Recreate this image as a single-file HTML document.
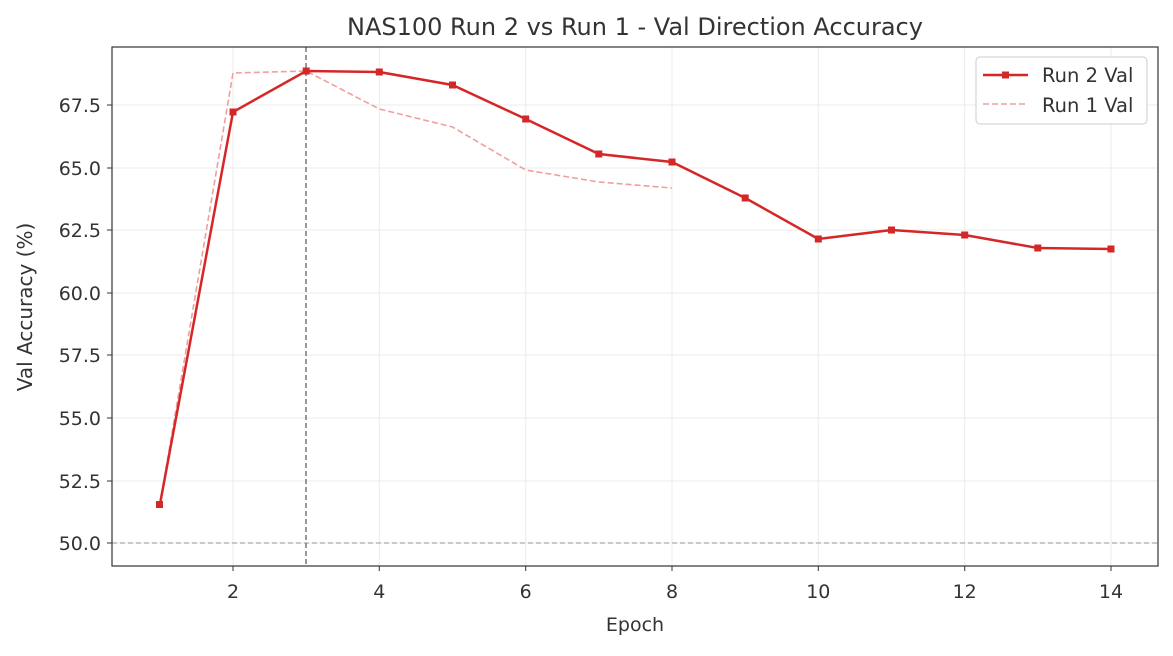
<!DOCTYPE html>
<html><head><meta charset="utf-8"><style>body{margin:0;background:#fff}</style></head><body>
<svg width="1173" height="651" xmlns="http://www.w3.org/2000/svg" font-family="DejaVu Sans, Liberation Sans, sans-serif" fill="#333">
<rect width="1173" height="651" fill="#fff"/>
<g stroke="#ebebeb" stroke-width="1">
<line x1="233" y1="47" x2="233" y2="566"/><line x1="379.3" y1="47" x2="379.3" y2="566"/><line x1="525.7" y1="47" x2="525.7" y2="566"/><line x1="672" y1="47" x2="672" y2="566"/><line x1="818.3" y1="47" x2="818.3" y2="566"/><line x1="964.7" y1="47" x2="964.7" y2="566"/><line x1="1111" y1="47" x2="1111" y2="566"/>
<line x1="112" y1="105" x2="1158" y2="105"/><line x1="112" y1="168" x2="1158" y2="168"/><line x1="112" y1="230" x2="1158" y2="230"/><line x1="112" y1="293" x2="1158" y2="293"/><line x1="112" y1="355" x2="1158" y2="355"/><line x1="112" y1="418" x2="1158" y2="418"/><line x1="112" y1="481" x2="1158" y2="481"/><line x1="112" y1="543" x2="1158" y2="543"/>
</g>
<line x1="112" y1="543" x2="1158" y2="543" stroke="#aaa" stroke-width="1.3" stroke-dasharray="5,3"/>
<line x1="306" y1="47" x2="306" y2="566" stroke="#777" stroke-width="1.5" stroke-dasharray="5,3"/>
<polyline fill="none" stroke="#eea0a0" stroke-width="1.6" stroke-dasharray="6,3" points="159.8,505 233,73 306.2,71 379.3,109 452.5,127 525.7,170 598.8,182 672,188"/>
<polyline fill="none" stroke="#d62728" stroke-width="2.5" points="159.8,505 233,112 306.2,71 379.3,72 452.5,85 525.7,119 598.8,154 672,162 745.2,198 818.3,239 891.5,230 964.7,235 1037.8,248 1111,249"/>
<g fill="#d62728">
<rect x="156" y="501" width="7" height="7"/><rect x="229.5" y="108.5" width="7" height="7"/><rect x="302.7" y="67.5" width="7" height="7"/><rect x="375.8" y="68.5" width="7" height="7"/><rect x="449" y="81.5" width="7" height="7"/><rect x="522.2" y="115.5" width="7" height="7"/><rect x="595.3" y="150.5" width="7" height="7"/><rect x="668.5" y="158.5" width="7" height="7"/><rect x="741.7" y="194.5" width="7" height="7"/><rect x="814.8" y="235.5" width="7" height="7"/><rect x="888" y="226.5" width="7" height="7"/><rect x="961.2" y="231.5" width="7" height="7"/><rect x="1034.3" y="244.5" width="7" height="7"/><rect x="1107.5" y="245.5" width="7" height="7"/>
</g>
<rect x="112" y="47" width="1046" height="519" fill="none" stroke="#333" stroke-width="1.2"/>
<g stroke="#333"><line x1="233" y1="566" x2="233" y2="571"/><line x1="379.3" y1="566" x2="379.3" y2="571"/><line x1="525.7" y1="566" x2="525.7" y2="571"/><line x1="672" y1="566" x2="672" y2="571"/><line x1="818.3" y1="566" x2="818.3" y2="571"/><line x1="964.7" y1="566" x2="964.7" y2="571"/><line x1="1111" y1="566" x2="1111" y2="571"/>
<line x1="107" y1="105" x2="112" y2="105"/><line x1="107" y1="168" x2="112" y2="168"/><line x1="107" y1="230" x2="112" y2="230"/><line x1="107" y1="293" x2="112" y2="293"/><line x1="107" y1="355" x2="112" y2="355"/><line x1="107" y1="418" x2="112" y2="418"/><line x1="107" y1="481" x2="112" y2="481"/><line x1="107" y1="543" x2="112" y2="543"/></g>
<g font-size="19" text-anchor="middle"><text x="233" y="598">2</text><text x="379.3" y="598">4</text><text x="525.7" y="598">6</text><text x="672" y="598">8</text><text x="818.3" y="598">10</text><text x="964.7" y="598">12</text><text x="1111" y="598">14</text></g>
<g font-size="19" text-anchor="end"><text x="101" y="112">67.5</text><text x="101" y="175">65.0</text><text x="101" y="237">62.5</text><text x="101" y="300">60.0</text><text x="101" y="362">57.5</text><text x="101" y="425">55.0</text><text x="101" y="488">52.5</text><text x="101" y="550">50.0</text></g>
<text x="635" y="631" font-size="19" text-anchor="middle">Epoch</text>
<text transform="translate(32,307) rotate(-90)" font-size="20" text-anchor="middle">Val Accuracy (%)</text>
<text x="635" y="35" font-size="24" text-anchor="middle">NAS100 Run 2 vs Run 1 - Val Direction Accuracy</text>
<rect x="976" y="57" width="171" height="67" rx="4" fill="#fff" stroke="#ccc" stroke-width="1"/>
<line x1="983" y1="75" x2="1028" y2="75" stroke="#d62728" stroke-width="2.5"/><rect x="1002" y="71.5" width="7" height="7" fill="#d62728"/>
<line x1="983" y1="104" x2="1028" y2="104" stroke="#eea0a0" stroke-width="1.6" stroke-dasharray="6,3"/>
<text x="1042" y="82" font-size="19.5">Run 2 Val</text><text x="1042" y="112" font-size="19.5">Run 1 Val</text>
</svg>
</body></html>
